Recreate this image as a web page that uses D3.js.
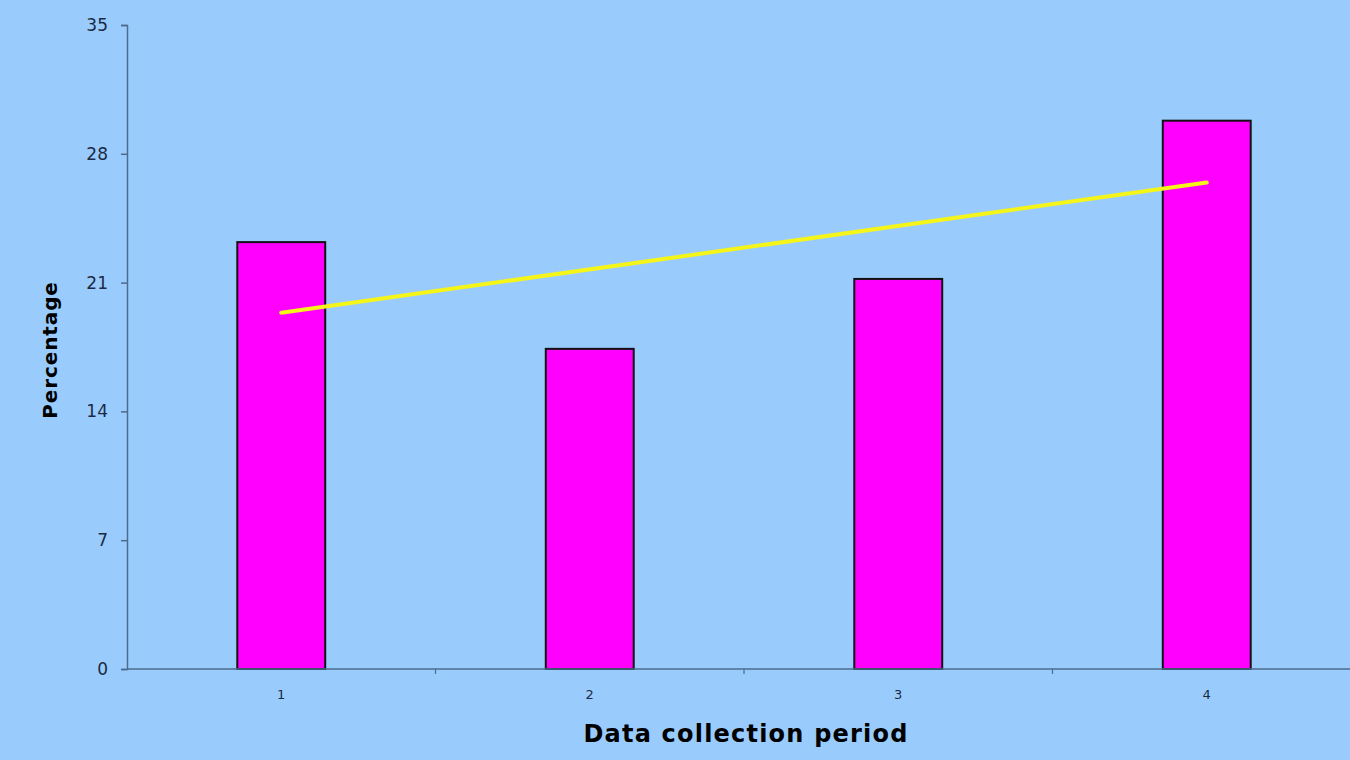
<!DOCTYPE html>
<html>
<head>
<meta charset="utf-8">
<script src="https://cdn.jsdelivr.net/npm/d3@7"></script>
<style>
  html, body { margin: 0; padding: 0; background: #99ccfd; }
  svg { display: block; }
</style>
</head>
<body>
<div id="chart"></div>
<script>
// Data
const periods = ["1", "2", "3", "4"];
const percentages = [23.2, 17.4, 21.2, 29.8];
const yTicks = [0, 7, 14, 21, 28, 35];

const width = 1350;
const height = 760;
const margin = { top: 25, right: -11, bottom: 91, left: 127 };
const font = "DejaVu Sans, Verdana, sans-serif";

const svg = d3.select("#chart").append("svg")
    .attr("width", width)
    .attr("height", height);

svg.append("rect")
    .attr("width", width)
    .attr("height", height)
    .attr("fill", "#99ccfd");

// Scales
const x = d3.scaleBand()
    .domain(periods)
    .range([margin.left, width - margin.right])
    .paddingInner(0.715)
    .paddingOuter(0.3575);

const y = d3.scaleLinear()
    .domain([0, 35])
    .range([height - margin.bottom, margin.top]);

const axisColor = "#4d6b8c";
const labelColor = "#1b2a44";

// Bars
svg.selectAll("rect.bar")
    .data(percentages)
    .enter().append("rect")
    .attr("class", "bar")
    .attr("x", (d, i) => x(periods[i]))
    .attr("y", d => y(d))
    .attr("width", x.bandwidth())
    .attr("height", d => y(0) - y(d))
    .attr("fill", "#ff00ff")
    .attr("stroke", "#111")
    .attr("stroke-width", 2);

// Y axis
const yAxis = svg.append("g")
    .attr("transform", `translate(${margin.left},0)`)
    .call(d3.axisLeft(y).tickValues(yTicks).tickSize(6).tickPadding(13));
yAxis.select(".domain").attr("stroke", axisColor).attr("stroke-width", 1.5);
yAxis.selectAll(".tick line").attr("stroke", axisColor).attr("stroke-width", 1.5);
yAxis.selectAll(".tick text")
    .attr("fill", labelColor)
    .style("font-family", font)
    .style("font-size", "17px");

// X axis: line, separator ticks between categories, labels under bars
const xAxis = svg.append("g").attr("class", "x-axis");
xAxis.append("line")
    .attr("x1", margin.left)
    .attr("x2", width)
    .attr("y1", y(0))
    .attr("y2", y(0))
    .attr("stroke", axisColor)
    .attr("stroke-width", 1.5);

const step = x.step();
xAxis.selectAll("line.sep")
    .data(periods.slice(1))
    .enter().append("line")
    .attr("class", "sep")
    .attr("x1", d => x(d) + x.bandwidth() / 2 - step / 2)
    .attr("x2", d => x(d) + x.bandwidth() / 2 - step / 2)
    .attr("y1", y(0))
    .attr("y2", y(0) + 5)
    .attr("stroke", axisColor)
    .attr("stroke-width", 1.2);

xAxis.selectAll("text")
    .data(periods)
    .enter().append("text")
    .attr("x", d => x(d) + x.bandwidth() / 2)
    .attr("y", y(0) + 30)
    .attr("text-anchor", "middle")
    .attr("fill", labelColor)
    .style("font-family", font)
    .style("font-size", "13px")
    .text(d => d);

// Linear trend line (least squares over the bar values)
const xs = periods.map((p, i) => i + 1);
const mx = d3.mean(xs);
const my = d3.mean(percentages);
const slope = d3.sum(xs, (v, i) => (v - mx) * (percentages[i] - my)) / d3.sum(xs, v => (v - mx) ** 2);
const intercept = my - slope * mx;
const trend = periods.map((p, i) => ({ p: p, v: intercept + slope * xs[i] }));

svg.append("path")
    .datum([trend[0], trend[trend.length - 1]])
    .attr("fill", "none")
    .attr("stroke", "#f5f51a")
    .attr("stroke-width", 4)
    .attr("stroke-linecap", "round")
    .attr("d", d3.line()
        .x(d => x(d.p) + x.bandwidth() / 2)
        .y(d => y(d.v)));

// Axis titles
svg.append("text")
    .attr("x", 746)
    .attr("y", 742)
    .attr("text-anchor", "middle")
    .attr("fill", "#000")
    .style("font-family", font)
    .style("font-weight", "bold")
    .style("font-size", "24px")
    .style("letter-spacing", "1.2px")
    .text("Data collection period");

svg.append("text")
    .attr("transform", "translate(57,350) rotate(-90)")
    .attr("text-anchor", "middle")
    .attr("fill", "#000")
    .style("font-family", font)
    .style("font-weight", "bold")
    .style("font-size", "20px")
    .style("letter-spacing", "0.9px")
    .text("Percentage");
</script>
</body>
</html>
